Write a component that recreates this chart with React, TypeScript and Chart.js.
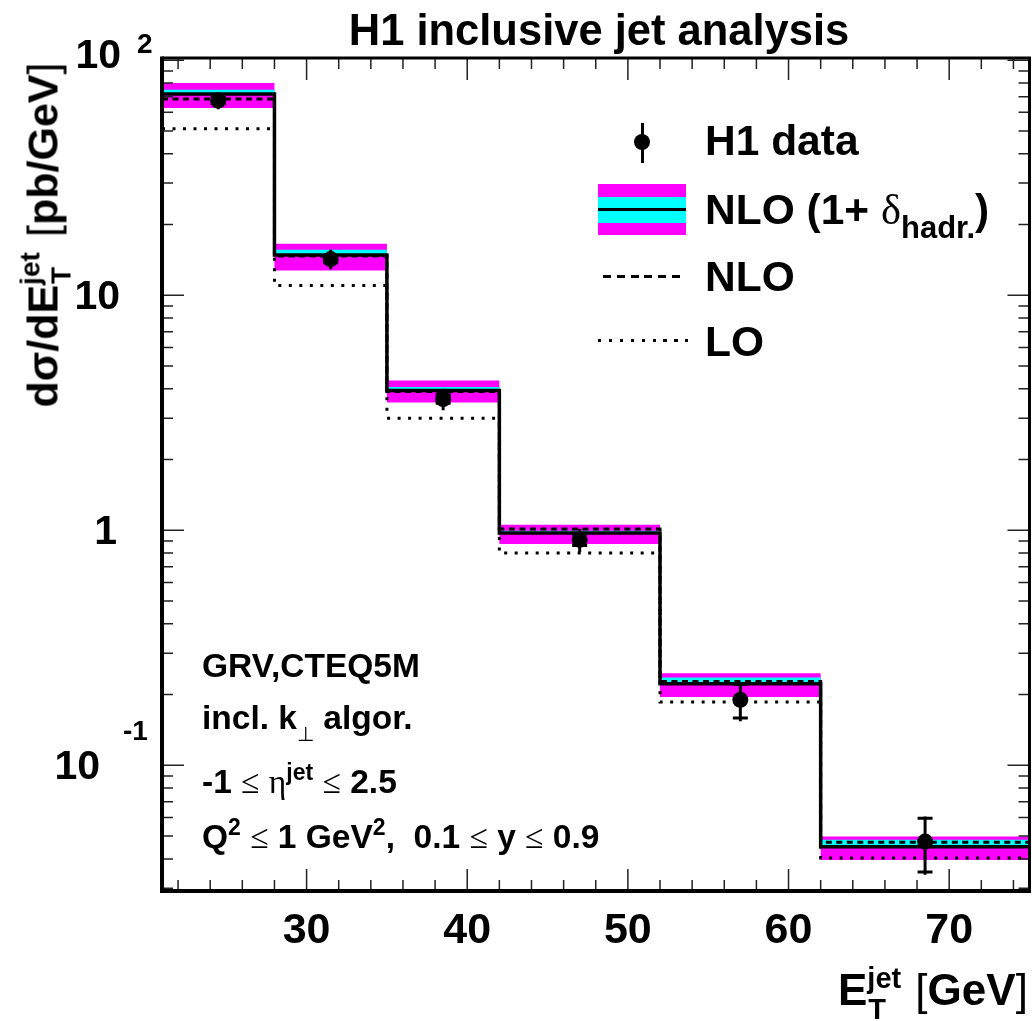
import React, { useEffect, useRef, useState } from 'react';
import { Chart, registerables } from 'chart.js';

Chart.register(...registerables);

// ---------------- data ----------------
const binEdges = [21, 28, 35, 42, 52, 62, 75];
const binCenters = [24.5, 31.5, 38.5, 47, 57, 68.5];
const h1Data = [67.4, 14.26, 3.62, 0.911, 0.19, 0.0474];
const h1StatErr = [2.0, 0.5, 0.15, 0.05, 0.031, 0.0122];
const h1TotalErr = [5.5, 1.35, 0.38, 0.105, 0.036, 0.0132];
const nloHadr = [71.8, 14.83, 3.93, 0.973, 0.2222, 0.0451];
const nloHadrScaleUp = [74.9, 15.62, 4.07, 0.995, 0.2363, 0.0482];
const nloHadrBandUp = [80.0, 16.56, 4.34, 1.055, 0.2468, 0.0498];
const nloHadrBandDown = [62.6, 12.75, 3.5, 0.874, 0.1951, 0.0396];
const nlo = [68.4, 14.7, 3.9, 1.012, 0.2273, 0.0471];
const lo = [51.1, 11.01, 3.0, 0.8, 0.1858, 0.0403];

const xRange = [21, 75];
const yRange = [0.0292, 102.2];
const xMajorTicks = [30, 40, 50, 60, 70];
const xTickLabels = ['30', '40', '50', '60', '70'];
const xMinorTicks = [22, 24, 26, 28, 32, 34, 36, 38, 42, 44, 46, 48, 52, 54, 56, 58, 62, 64, 66, 68, 72, 74];
const yMajorTicks = [0.1, 1, 10, 100];
const yTickBase = ['10', '1', '10', '10'];
const yTickExp = ['-1', '', '', '2'];
const yMinorTicks = [
  0.03, 0.04, 0.05, 0.06, 0.07, 0.08, 0.09,
  0.2, 0.3, 0.4, 0.5, 0.6, 0.7, 0.8, 0.9,
  2, 3, 4, 5, 6, 7, 8, 9,
  20, 30, 40, 50, 60, 70, 80, 90,
];

// ---------------- styling ----------------
const FONT = '"Liberation Sans", Arial, Helvetica, sans-serif';
const SYM = '"Liberation Serif", "DejaVu Serif", serif';
const MAGENTA = '#ff00ff';
const CYAN = '#00ffff';

// layout of y tick labels (right edge of base, exponent left, exponent vertical offset, base offset)
const yLabelLayout = [
  { baseRight: 100, baseDy: 0, expLeft: 123, expDy: -35 },
  { baseRight: 117, baseDy: 0, expLeft: 0, expDy: 0 },
  { baseRight: 120, baseDy: 0, expLeft: 0, expDy: 0 },
  { baseRight: 121, baseDy: -6, expLeft: 137, expDy: -17 },
];

const steps = (vals: number[]) =>
  binEdges.map((x, i) => ({ x, y: vals[Math.min(i, vals.length - 1)] }));

const errorSegments = binCenters.flatMap((x, i) => [
  { x, y: h1Data[i] - h1TotalErr[i] },
  { x, y: h1Data[i] + h1TotalErr[i] },
  { x, y: null as any },
]);
const errorCaps = binCenters.flatMap((x, i) => [
  { x, y: h1Data[i] - h1StatErr[i] },
  { x, y: h1Data[i] + h1StatErr[i] },
]);
const dataPoints = binCenters.map((x, i) => ({ x, y: h1Data[i] }));

const frameAndTicks = {
  id: 'frameAndTicks',
  afterDraw(chart: any) {
    const { ctx, chartArea: a } = chart;
    const xs = chart.scales.x;
    const ys = chart.scales.y;
    ctx.save();
    ctx.strokeStyle = '#222';
    ctx.lineWidth = 1.5;
    ctx.beginPath();
    const xt = (vals: number[], len: number) =>
      vals.forEach((v) => {
        const p = xs.getPixelForValue(v);
        ctx.moveTo(p, a.bottom);
        ctx.lineTo(p, a.bottom - len);
        ctx.moveTo(p, a.top);
        ctx.lineTo(p, a.top + len);
      });
    const yt = (vals: number[], len: number) =>
      vals.forEach((v) => {
        const p = ys.getPixelForValue(v);
        ctx.moveTo(a.left, p);
        ctx.lineTo(a.left + len, p);
        ctx.moveTo(a.right, p);
        ctx.lineTo(a.right - len, p);
      });
    xt(xMajorTicks, 22);
    xt(xMinorTicks, 11);
    yt(yMajorTicks, 22);
    yt(yMinorTicks, 11);
    ctx.stroke();
    ctx.strokeStyle = '#000';
    ctx.lineWidth = 4;
    ctx.beginPath();
    ctx.moveTo(a.left, a.top - 1.5);
    ctx.lineTo(a.left, a.bottom);
    ctx.lineTo(a.right + 1.5, a.bottom);
    ctx.stroke();
    ctx.lineWidth = 3;
    ctx.beginPath();
    ctx.moveTo(a.left, a.top);
    ctx.lineTo(a.right, a.top);
    ctx.lineTo(a.right, a.bottom);
    ctx.stroke();
    ctx.restore();
  },
};

const lineBase = {
  pointRadius: 0,
  pointHoverRadius: 0,
  pointHitRadius: 0,
  stepped: 'before' as const,
  spanGaps: false,
};

function buildConfig(): any {
  return {
    type: 'line',
    data: {
      datasets: [
        {
          // 0 data points
          data: dataPoints,
          showLine: false,
          pointRadius: 8,
          pointHoverRadius: 8,
          pointBackgroundColor: '#000',
          pointBorderColor: '#000',
          pointBorderWidth: 0,
          order: 0,
        },
        {
          // 1 stat caps
          data: errorCaps,
          showLine: false,
          pointStyle: 'line',
          pointRadius: 7.5,
          pointHoverRadius: 7.5,
          pointBorderColor: '#000',
          pointBorderWidth: 3,
          order: 1,
        },
        {
          // 2 total error lines
          data: errorSegments,
          borderColor: '#000',
          borderWidth: 3,
          pointRadius: 0,
          spanGaps: false,
          order: 2,
        },
        {
          // 3 LO
          ...lineBase,
          data: steps(lo),
          borderColor: '#000',
          borderWidth: 3,
          borderDash: [3, 7.5],
          order: 3,
        },
        {
          // 4 NLO
          ...lineBase,
          data: steps(nlo),
          borderColor: '#000',
          borderWidth: 3,
          borderDash: [6, 4.5],
          order: 4,
        },
        {
          // 5 NLO (1+delta_hadr)
          ...lineBase,
          data: steps(nloHadr),
          borderColor: '#000',
          borderWidth: 3.5,
          order: 5,
        },
        {
          // 6 cyan band
          ...lineBase,
          data: steps(nloHadrScaleUp),
          borderColor: 'rgba(0,0,0,0)',
          borderWidth: 1,
          backgroundColor: CYAN,
          fill: 5,
          order: 6,
        },
        {
          // 7 magenta band upper
          ...lineBase,
          data: steps(nloHadrBandUp),
          borderColor: 'rgba(0,0,0,0)',
          borderWidth: 1,
          backgroundColor: MAGENTA,
          fill: 8,
          order: 7,
        },
        {
          // 8 magenta band lower
          ...lineBase,
          data: steps(nloHadrBandDown),
          borderColor: 'rgba(0,0,0,0)',
          borderWidth: 1,
          fill: false,
          order: 8,
        },
      ],
    },
    options: {
      responsive: false,
      animation: false,
      devicePixelRatio: 1,
      events: [],
      layout: { padding: { left: 162, top: 58, right: 5, bottom: 130 } },
      plugins: {
        legend: { display: false },
        tooltip: { enabled: false },
        title: { display: false },
      },
      scales: {
        x: {
          type: 'linear',
          min: xRange[0],
          max: xRange[1],
          grid: { display: false, drawTicks: false },
          border: { display: false },
          ticks: { display: false },
          afterFit: (s: any) => {
            s.height = 0;
          },
        },
        y: {
          type: 'logarithmic',
          min: yRange[0],
          max: yRange[1],
          grid: { display: false, drawTicks: false },
          border: { display: false },
          ticks: { display: false },
          afterFit: (s: any) => {
            s.width = 0;
          },
        },
      },
    },
    plugins: [frameAndTicks],
  };
}

const Txt = ({ x, cy, size, children, align, weight, family, style }: any) => (
  <div
    style={{
      position: 'absolute',
      left: x,
      top: cy - 0.49 * size,
      fontSize: size,
      lineHeight: 1,
      whiteSpace: 'pre',
      fontWeight: weight || 'bold',
      fontFamily: family || FONT,
      transform:
        align === 'right' ? 'translateX(-100%)' : align === 'center' ? 'translateX(-50%)' : undefined,
      ...style,
    }}
  >
    {children}
  </div>
);

const Sym = ({ children }: any) => (
  <span style={{ fontFamily: SYM, fontWeight: 'normal' }}>{children}</span>
);

const Sup = ({ children, size, dy }: any) => (
  <span style={{ fontSize: size, position: 'relative', top: -dy }}>{children}</span>
);

const SupSub = ({ sup, sub, size, supDy, subDy, width }: any) => (
  <span style={{ display: 'inline-block', position: 'relative', width, height: 1 }}>
    <span style={{ position: 'absolute', left: 0, bottom: supDy, fontSize: size, lineHeight: 1 }}>{sup}</span>
    <span style={{ position: 'absolute', left: 1, top: subDy, fontSize: size, lineHeight: 1 }}>{sub}</span>
  </span>
);

export default function App() {
  const canvasRef = useRef<HTMLCanvasElement | null>(null);
  const [pix, setPix] = useState<{ x: number[]; y: number[] } | null>(null);

  useEffect(() => {
    if (!canvasRef.current) return;
    const chart = new Chart(canvasRef.current, buildConfig());
    const ys: any = chart.scales.y;
    const xs: any = chart.scales.x;
    setPix({
      x: xMajorTicks.map((v) => xs.getPixelForValue(v)),
      y: yMajorTicks.map((v) => ys.getPixelForValue(v)),
    });
    return () => chart.destroy();
  }, []);

  return (
    <div
      style={{
        position: 'fixed',
        left: 0,
        top: 0,
        width: 1032,
        height: 1021,
        overflow: 'hidden',
        background: '#fff',
        color: '#000',
        fontFamily: FONT,
      }}
    >
      <canvas ref={canvasRef} width={1040} height={1021} style={{ position: 'absolute', left: 0, top: 0 }} />

      {/* title */}
      <Txt x={599} cy={30} size={43.5} align="center">H1 inclusive jet analysis</Txt>

      {/* x tick labels */}
      {pix &&
        pix.x.map((px, i) => (
          <Txt key={'x' + i} x={px} cy={928} size={43} align="center">{xTickLabels[i]}</Txt>
        ))}

      {/* y tick labels */}
      {pix &&
        pix.y.map((py, i) => (
          <React.Fragment key={'y' + i}>
            <Txt x={yLabelLayout[i].baseRight} cy={py + yLabelLayout[i].baseDy} size={41} align="right">
              {yTickBase[i]}
            </Txt>
            {yTickExp[i] && (
              <Txt x={yLabelLayout[i].expLeft} cy={py + yLabelLayout[i].expDy} size={28}>{yTickExp[i]}</Txt>
            )}
          </React.Fragment>
        ))}

      {/* y axis title */}
      <div
        style={{
          position: 'absolute',
          left: 43,
          top: 235,
          transform: 'translate(-50%, -50%) rotate(-90deg)',
          fontSize: 43,
          lineHeight: 1,
          whiteSpace: 'pre',
          fontWeight: 'bold',
        }}
      >
        d<span>σ</span>/dE
        <SupSub sup="jet" sub="T" size={28} supDy={13} subDy={-9} width={36} />
        {' '}
        <span style={{ fontWeight: 'normal' }}>[</span>pb/GeV<span style={{ fontWeight: 'normal' }}>]</span>
      </div>

      {/* x axis title */}
      <Txt x={838} cy={990} size={44}>
        E
        <SupSub sup="jet" sub="T" size={29} supDy={12} subDy={-9} width={38} />
        <span style={{ fontWeight: 'normal', marginLeft: 10 }}>[</span>GeV<span style={{ fontWeight: 'normal' }}>]</span>
      </Txt>

      {/* legend */}
      <div style={{ position: 'absolute', left: 640.5, top: 123, width: 3, height: 40, background: '#000' }} />
      <div style={{ position: 'absolute', left: 634, top: 134, width: 16, height: 16, borderRadius: '50%', background: '#000' }} />
      <Txt x={705} cy={141} size={42.5}>H1 data</Txt>

      <div style={{ position: 'absolute', left: 598, top: 184, width: 88, height: 51, background: MAGENTA }} />
      <div style={{ position: 'absolute', left: 598, top: 197, width: 88, height: 26, background: CYAN }} />
      <div style={{ position: 'absolute', left: 598, top: 208, width: 88, height: 3, background: '#000' }} />
      <Txt x={705} cy={210} size={42.5}>
        NLO (1+ <Sym>δ</Sym>
        <Sup size={31} dy={-14}>hadr.</Sup>)
      </Txt>

      <div
        style={{
          position: 'absolute',
          left: 603,
          top: 275,
          width: 77,
          height: 3,
          background: 'repeating-linear-gradient(90deg, #000 0 8px, transparent 8px 13.8px)',
        }}
      />
      <Txt x={705} cy={277} size={42.5}>NLO</Txt>

      <div
        style={{
          position: 'absolute',
          left: 598,
          top: 339,
          width: 90,
          height: 3.3,
          background: 'repeating-linear-gradient(90deg, #000 0 3.3px, transparent 3.3px 10.9px)',
        }}
      />
      <Txt x={705} cy={342} size={42.5}>LO</Txt>

      {/* annotations */}
      <Txt x={202} cy={665} size={33.5}>GRV,CTEQ5M</Txt>
      <Txt x={202} cy={717} size={33.5}>
        incl. k<Sup size={20} dy={-12}><span style={{ fontWeight: 'normal' }}>⊥</span></Sup> algor.
      </Txt>
      <Txt x={202} cy={781} size={33.5}>
        -1 <Sym>≤</Sym> <Sym>η</Sym><Sup size={23} dy={13}>jet</Sup> <Sym>≤</Sym> 2.5
      </Txt>
      <Txt x={202} cy={836} size={33.5}>
        Q<Sup size={23} dy={13}>2</Sup> <Sym>≤</Sym> 1 GeV<Sup size={23} dy={13}>2</Sup>,  0.1 <Sym>≤</Sym> y <Sym>≤</Sym> 0.9
      </Txt>
    </div>
  );
}
